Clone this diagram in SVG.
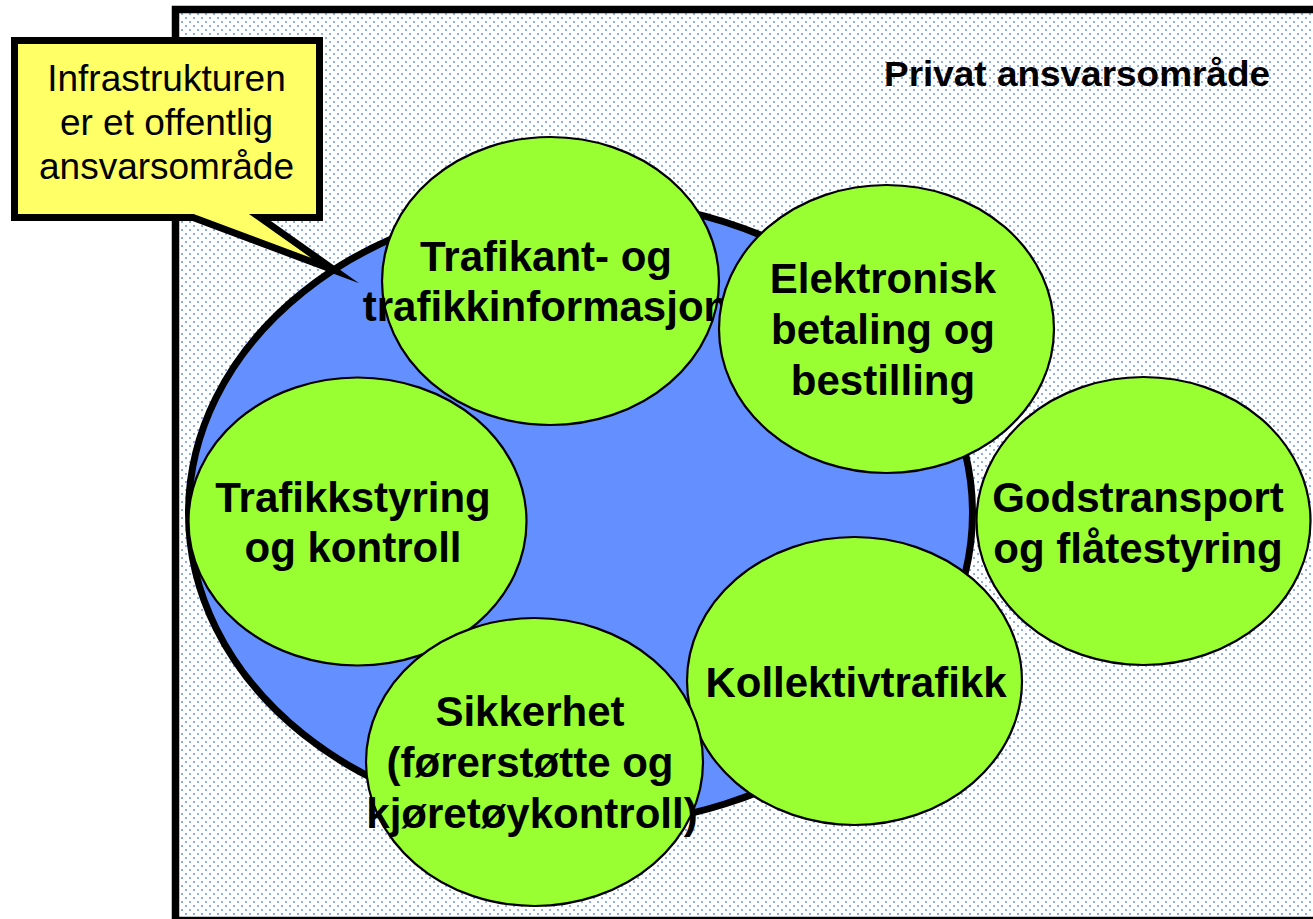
<svg xmlns="http://www.w3.org/2000/svg" width="1313" height="919" viewBox="0 0 1313 919">
<defs>
<pattern id="dots" width="8" height="8" patternUnits="userSpaceOnUse">
<rect width="8" height="8" fill="#ffffff"/>
<rect x="1" y="1" width="2" height="2" fill="#8eabff"/>
<rect x="5" y="5" width="2" height="2" fill="#8eabff"/>
</pattern>
<style>
.node ellipse{fill:#99ff33;stroke:#000;stroke-width:2.2}
.node text{font-family:"Liberation Sans",Arial,sans-serif;font-weight:bold;font-size:42px;fill:#000;text-anchor:middle}
.callout text{font-family:"Liberation Sans",Arial,sans-serif;font-size:37px;fill:#000;text-anchor:middle}
</style>
</defs>
<rect width="1313" height="919" fill="#ffffff"/>
<g id="privat">
<rect x="175.5" y="9.5" width="1160" height="911" fill="url(#dots)" stroke="#000" stroke-width="7.5"/>
<text x="884" y="86" font-family="Liberation Sans, Arial, sans-serif" font-weight="bold" font-size="35" textLength="386" lengthAdjust="spacingAndGlyphs">Privat ansvarsområde</text>
</g>
<g id="infrastruktur">
<ellipse cx="580.5" cy="513" rx="392" ry="313" fill="#638fff" stroke="#000" stroke-width="7"/>
</g>
<g id="callout" class="callout">
<path d="M14.5,40.5 H319.5 V217.5 H260 L335,270.5 L193,217.5 H14.5 Z" fill="#ffff66" stroke="#000" stroke-width="7" stroke-miterlimit="12"/>
<text x="166.5" y="91">Infrastrukturen</text>
<text x="166.5" y="135">er et offentlig</text>
<text x="166.5" y="179">ansvarsområde</text>
</g>
<g id="connectors"></g>
<g id="trafikkstyring" class="node">
<ellipse cx="357.5" cy="521.5" rx="169" ry="144"/>
<text x="353" y="512">Trafikkstyring</text>
<text x="353" y="562">og kontroll</text>
</g>
<g id="trafikant" class="node">
<ellipse cx="550.5" cy="281" rx="168.5" ry="144"/>
<text x="546" y="271">Trafikant- og</text>
<text x="546" y="321">trafikkinformasjon</text>
</g>
<g id="elektronisk" class="node">
<ellipse cx="886.5" cy="329" rx="167.5" ry="144"/>
<text x="883" y="293">Elektronisk</text>
<text x="883" y="344">betaling og</text>
<text x="883" y="395">bestilling</text>
</g>
<g id="godstransport" class="node">
<ellipse cx="1143.5" cy="521" rx="167" ry="144"/>
<text x="1138" y="512">Godstransport</text>
<text x="1138" y="563">og flåtestyring</text>
</g>
<g id="kollektivtrafikk" class="node">
<ellipse cx="854.5" cy="681" rx="167.5" ry="144"/>
<text x="856" y="697">Kollektivtrafikk</text>
</g>
<g id="sikkerhet" class="node">
<ellipse cx="534.5" cy="762" rx="168.5" ry="144"/>
<text x="530" y="726">Sikkerhet</text>
<text x="530" y="777">(førerstøtte og</text>
<text x="532" y="828">kjøretøykontroll)</text>
</g>
</svg>
